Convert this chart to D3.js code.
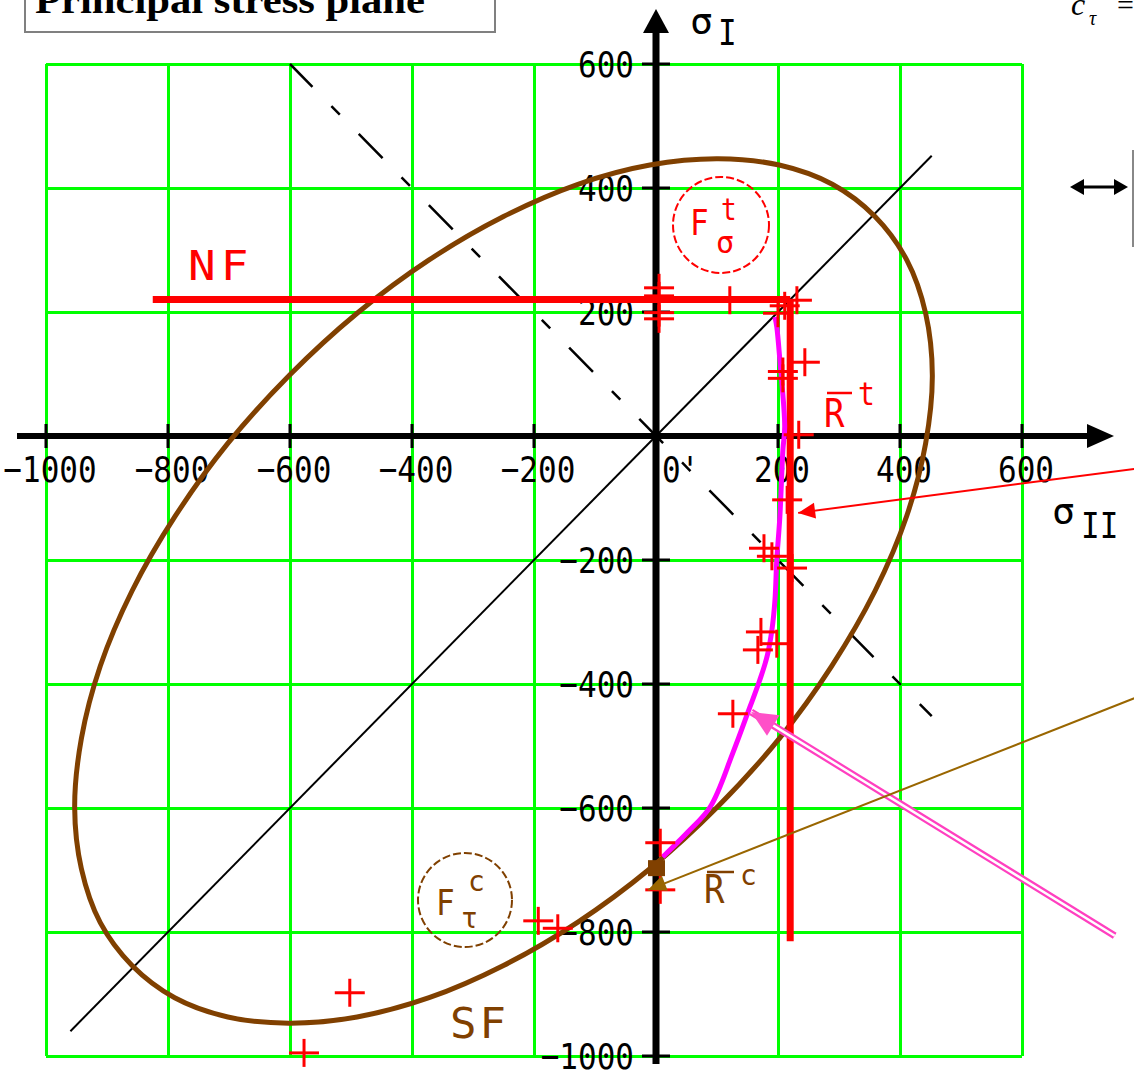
<!DOCTYPE html>
<html>
<head>
<meta charset="utf-8">
<script src="https://cdn.jsdelivr.net/npm/d3@7"></script>
<style>
  html, body { margin: 0; padding: 0; background: #fff; }
  svg { display: block; }
</style>
</head>
<body>
<svg id="chart" width="1134" height="1081"></svg>
<script>
// ---- data (stress values, principal stress plane) ----
const gridValues = [-1000, -800, -600, -400, -200, 0, 200, 400, 600];
const xTickLabels = ["−1000", "−800", "−600", "−400", "−200", "0'", "200", "400", "600"];
const yTickLabels = ["−1000", "−800", "−600", "−400", "−200", "", "200", "400", "600"];

// SF failure envelope, closed contour (sigma_II, sigma_I)
const envelopeSF = [
  [359, 354], [289, 406], [202, 437], [102, 447], [-10, 437], [-128, 406],
  [-250, 354], [-372, 284], [-490, 198], [-601, 98], [-702, -12], [-788, -129],
  [-859, -250], [-911, -371], [-942, -488], [-953, -599], [-942, -698], [-911, -785],
  [-859, -854], [-789, -906], [-702, -937], [-602, -947], [-490, -937], [-372, -906],
  [-250, -854], [-128, -784], [-10, -698], [101, -598], [202, -488], [288, -371],
  [359, -250], [411, -129], [442, -12], [453, 98], [442, 198], [411, 284]
];

// NF envelope: tension limits in both directions
const nfLimit = 220;
const nfHorizontal = [[-825, nfLimit], [nfLimit, nfLimit]];
const nfVertical = [[nfLimit, nfLimit], [nfLimit, -815]];

// computed loading path
const loadPath = [
  [11, -679], [51, -640], [89, -598], [126, -511], [154, -437], [170, -394],
  [182, -356], [190, -313], [195, -265], [198, -200], [203, -131], [208, -23],
  [211, 15], [203, 123], [198, 176], [195, 192]
];

// measured failure points
const testPoints = [
  [121, 219], [5, 239], [5, 226], [5, 199], [5, 189], [211, 210], [231, 219], [200, 198],
  [244, 119], [208, 104], [208, 93], [234, 2], [215, -103], [177, -181], [190, -194],
  [223, -213], [172, -316], [167, -345], [198, -335], [126, -448], [7, -656],
  [7, -732], [-193, -782], [-161, -794], [-502, -898], [-577, -995]
];

// reference lines sigma_I = sigma_II and sigma_I = -sigma_II
const diagonal = [[-960, -960], [452, 452]];
const antiDiagonal = [[-600, 600], [452, -452]];

// compression strength point on the sigma_I axis
const rcPoint = [0, -697];

// annotation arrows (tail, head)
const arrowRt = [[784, -53], [233, -124]];
const arrowPath = [[752, -806], [156, -445]];
const arrowRc = [[784, -423], [-13, -732]];

// ---- scales ----
const svg = d3.select("#chart");
const x = d3.scaleLinear([-1000, 600], [46, 1022]);
const y = d3.scaleLinear([-1000, 600], [1056, 64]);
const line = d3.line().x(d => x(d[0])).y(d => y(d[1]));
const closedCurve = d3.line().x(d => x(d[0])).y(d => y(d[1])).curve(d3.curveCatmullRomClosed.alpha(0.5));
const smoothCurve = d3.line().x(d => x(d[0])).y(d => y(d[1])).curve(d3.curveCatmullRom.alpha(0.5));

const RED = "#ff0000", BROWN = "#804000", GREEN = "#00ff00", MAG = "#ff00ff";
const MONO = "'DejaVu Sans Mono', monospace";

// text with a stretched, terminal-like look
function tlabel(g, str, px, py, opts = {}) {
  const t = g.append("text")
    .attr("transform", `translate(${px},${py}) scale(1,${opts.sy ?? 1.16})`)
    .attr("font-family", opts.family ?? MONO)
    .attr("font-size", opts.size ?? 31)
    .attr("fill", opts.fill ?? "#000")
    .attr("text-anchor", opts.anchor ?? "start")
    .text(str);
  if (opts.style) t.attr("font-style", opts.style);
  if (opts.weight) t.attr("font-weight", opts.weight);
  return t;
}

// ---- grid ----
const grid = svg.append("g").attr("stroke", GREEN).attr("stroke-width", 3)
  .attr("shape-rendering", "crispEdges");
grid.selectAll(".gx").data(gridValues).join("line")
  .attr("x1", d => x(d)).attr("x2", d => x(d)).attr("y1", y(600)).attr("y2", y(-1000));
grid.selectAll(".gy").data(gridValues).join("line")
  .attr("y1", d => y(d)).attr("y2", d => y(d)).attr("x1", x(-1000)).attr("x2", x(600));

// ---- reference diagonals ----
svg.append("path").attr("d", line(diagonal)).attr("stroke", "#000")
  .attr("stroke-width", 2).attr("fill", "none");
svg.append("path").attr("d", line(antiDiagonal)).attr("stroke", "#000")
  .attr("stroke-width", 2.5).attr("fill", "none")
  .attr("stroke-dasharray", "34,27,12,27").attr("stroke-dashoffset", 2);

// ---- axes ----
const axes = svg.append("g");
axes.append("line").attr("x1", 17).attr("x2", 1095).attr("y1", y(0)).attr("y2", y(0))
  .attr("stroke", "#000").attr("stroke-width", 6);
axes.append("path").attr("d", `M1087,${y(0) - 12} L1114,${y(0)} L1087,${y(0) + 12} Z`).attr("fill", "#000");
axes.append("line").attr("x1", x(0)).attr("x2", x(0)).attr("y1", 28).attr("y2", 1064)
  .attr("stroke", "#000").attr("stroke-width", 7);
axes.append("path").attr("d", `M${x(0) - 13},33 L${x(0)},9 L${x(0) + 13},33 Z`).attr("fill", "#000");

// tick marks on both axes
axes.selectAll(".tx").data(gridValues).join("line")
  .attr("x1", d => x(d)).attr("x2", d => x(d)).attr("y1", y(0) - 12).attr("y2", y(0) + 12)
  .attr("stroke", "#000").attr("stroke-width", 3);
axes.selectAll(".ty").data(gridValues).join("line")
  .attr("y1", d => y(d)).attr("y2", d => y(d)).attr("x1", x(0) - 14).attr("x2", x(0) + 14)
  .attr("stroke", "#000").attr("stroke-width", 3);

// tick labels
const labels = svg.append("g");
gridValues.forEach((v, i) => {
  if (v === 0) tlabel(labels, xTickLabels[i], x(0) + 6, 482);
  else tlabel(labels, xTickLabels[i], x(v) + 4, 482, { anchor: "middle" });
  if (yTickLabels[i]) tlabel(labels, yTickLabels[i], 634, y(v) + 13, { anchor: "end" });
});

// axis names
tlabel(labels, "σ", 690, 34, { size: 38, sy: 1.0 });
tlabel(labels, "I", 718, 45, { size: 31 });
tlabel(labels, "σ", 1052, 524, { size: 38, sy: 1.0 });
tlabel(labels, "II", 1081, 538, { size: 31 });

// ---- SF envelope ----
svg.append("path").attr("d", closedCurve(envelopeSF))
  .attr("stroke", BROWN).attr("stroke-width", 5).attr("fill", "none").attr("stroke-linejoin", "round");

// ---- NF envelope ----
svg.append("path").attr("d", line(nfHorizontal)).attr("stroke", RED).attr("stroke-width", 7).attr("fill", "none");
svg.append("path").attr("d", line(nfVertical)).attr("stroke", RED).attr("stroke-width", 7).attr("fill", "none");

// ---- load path ----
svg.append("path").attr("d", smoothCurve(loadPath)).attr("stroke", MAG).attr("stroke-width", 5)
  .attr("fill", "none").attr("stroke-linejoin", "round");

// ---- test points ----
const crosses = svg.append("g").attr("stroke", RED).attr("stroke-width", 3);
crosses.selectAll(".h").data(testPoints).join("line")
  .attr("x1", d => x(d[0]) - 15).attr("x2", d => x(d[0]) + 15)
  .attr("y1", d => y(d[1])).attr("y2", d => y(d[1]));
crosses.selectAll(".v").data(testPoints).join("line")
  .attr("x1", d => x(d[0])).attr("x2", d => x(d[0]))
  .attr("y1", d => y(d[1]) - 14).attr("y2", d => y(d[1]) + 14);

// ---- Rc marker ----
svg.append("rect").attr("x", x(rcPoint[0]) - 8).attr("y", y(rcPoint[1]) - 8)
  .attr("width", 17).attr("height", 16).attr("fill", BROWN);

// ---- annotation arrows ----
function arrowHead(tip, tail, len, half, fill) {
  const [tx, ty] = [x(tip[0]), y(tip[1])];
  const a = Math.atan2(y(tail[1]) - ty, x(tail[0]) - tx);
  const bx = tx + len * Math.cos(a), by = ty + len * Math.sin(a);
  const nx = -Math.sin(a) * half, ny = Math.cos(a) * half;
  svg.append("path").attr("d", `M${tx},${ty} L${bx + nx},${by + ny} L${bx - nx},${by - ny} Z`).attr("fill", fill);
}
svg.append("path").attr("d", line([arrowRt[0], arrowRt[1]])).attr("stroke", RED).attr("stroke-width", 2);
arrowHead(arrowRt[1], arrowRt[0], 17, 8, RED);

svg.append("path").attr("d", line(arrowPath)).attr("stroke", "#ff40c0").attr("stroke-width", 7);
svg.append("path").attr("d", line(arrowPath)).attr("stroke", "#fff").attr("stroke-width", 2.5);
arrowHead(arrowPath[1], arrowPath[0], 26, 12, "#ff50c8");

svg.append("path").attr("d", line(arrowRc)).attr("stroke", "#996600").attr("stroke-width", 2);
arrowHead(arrowRc[1], arrowRc[0], 18, 8, "#996600");

// ---- region labels ----
tlabel(labels, "NF", 188, 280, { size: 46, fill: RED, sy: 0.9 }).attr("letter-spacing", 5);
tlabel(labels, "SF", 450, 1038, { size: 44, fill: BROWN, sy: 0.95 }).attr("letter-spacing", 3);

// F sigma t (tension) badge
svg.append("circle").attr("cx", 721).attr("cy", 225).attr("r", 48)
  .attr("fill", "none").attr("stroke", RED).attr("stroke-width", 2).attr("stroke-dasharray", "8,3");
tlabel(labels, "F", 690, 235, { size: 31, fill: RED });
tlabel(labels, "t", 721, 220, { size: 26, fill: RED });
tlabel(labels, "σ", 716, 253, { size: 30, fill: RED, sy: 1.0 });

// F tau c (compression) badge
svg.append("circle").attr("cx", 465).attr("cy", 900).attr("r", 47)
  .attr("fill", "none").attr("stroke", BROWN).attr("stroke-width", 2).attr("stroke-dasharray", "8,3");
tlabel(labels, "F", 436, 915, { size: 31, fill: BROWN });
tlabel(labels, "c", 468, 891, { size: 28, fill: BROWN, sy: 1.0 });
tlabel(labels, "τ", 461, 928, { size: 28, fill: BROWN, sy: 1.0 });

// R bar t, R bar c
tlabel(labels, "R", 824, 427, { size: 34, fill: RED });
svg.append("line").attr("x1", 827).attr("x2", 852).attr("y1", 393).attr("y2", 393).attr("stroke", RED).attr("stroke-width", 2.5);
tlabel(labels, "t", 858, 405, { size: 28, fill: RED });
tlabel(labels, "R", 704, 903, { size: 34, fill: BROWN });
svg.append("line").attr("x1", 707).attr("x2", 734).attr("y1", 872).attr("y2", 872).attr("stroke", BROWN).attr("stroke-width", 2.5);
tlabel(labels, "c", 740, 885, { size: 28, fill: BROWN, sy: 1.0 });

// ---- title box ----
svg.append("rect").attr("x", 25).attr("y", -12).attr("width", 470).attr("height", 44)
  .attr("fill", "#fff").attr("stroke", "#808080").attr("stroke-width", 2);
svg.append("text").attr("x", 35).attr("y", 13)
  .attr("font-family", "'Liberation Serif', serif").attr("font-weight", "bold").attr("font-size", 38)
  .attr("textLength", 390).attr("lengthAdjust", "spacingAndGlyphs")
  .text("Principal stress plane");

// ---- side notes ----
svg.append("text").attr("x", 1071).attr("y", 15).attr("font-family", "'Liberation Serif', serif")
  .attr("font-style", "italic").attr("font-size", 32).text("c");
svg.append("text").attr("x", 1089).attr("y", 25).attr("font-family", "'Liberation Serif', serif")
  .attr("font-style", "italic").attr("font-size", 20).text("τ");
svg.append("text").attr("x", 1117).attr("y", 15).attr("font-family", "'Liberation Serif', serif")
  .attr("font-size", 30).text("=");

svg.append("line").attr("x1", 1080).attr("x2", 1120).attr("y1", 187).attr("y2", 187)
  .attr("stroke", "#000").attr("stroke-width", 3);
svg.append("path").attr("d", "M1070,187 L1084,179 L1084,195 Z").attr("fill", "#000");
svg.append("path").attr("d", "M1128,187 L1114,179 L1114,195 Z").attr("fill", "#000");
svg.append("line").attr("x1", 1133).attr("x2", 1133).attr("y1", 150).attr("y2", 247)
  .attr("stroke", "#888").attr("stroke-width", 2);
</script>
</body>
</html>
